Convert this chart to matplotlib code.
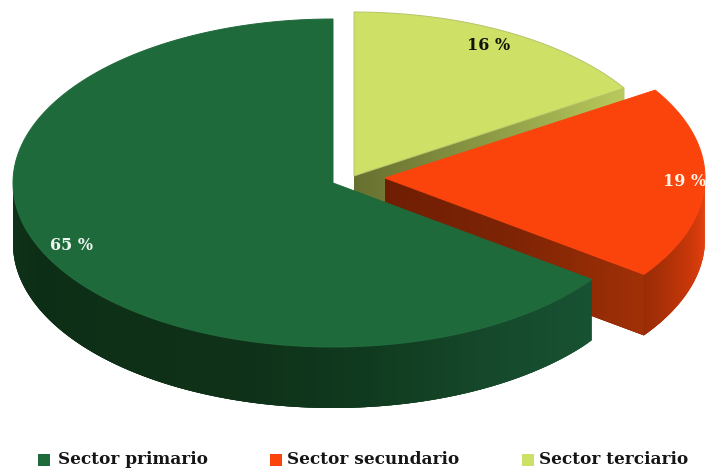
import numpy as np
import matplotlib
matplotlib.use("Agg")
import matplotlib.pyplot as plt
from matplotlib.collections import PolyCollection
from matplotlib.colors import to_rgb

# datos
sectores = ["Sector primario", "Sector secundario", "Sector terciario"]
valores = [65, 19, 16]
colores = ["#1f6a3b", "#fb430c", "#cfe066"]

RX, RY = 320, 164
DEPTH = 61
# centro de cada porcion en pixeles (explosion del pastel)
centros = {"Sector primario": (333, 183), "Sector secundario": (385, 178), "Sector terciario": (354, 176)}


def punto(c, ang):
    # angulo en grados, sentido horario desde las 12
    a = np.radians(ang)
    return c[0] + RX * np.sin(a), c[1] - RY * np.cos(a)


def degradado(n, paradas):
    t = np.linspace(0, 1, n)
    pos = np.linspace(0, 1, len(paradas))
    rgb = np.array([to_rgb(p) for p in paradas])
    return np.column_stack([np.interp(t, pos, rgb[:, i]) for i in range(3)])


def pared(ax, xs, ys, paradas):
    # cada tira pisa a la siguiente para que no se noten las uniones
    tiras = []
    for i in range(len(xs) - 1):
        j = min(i + 3, len(xs) - 1)
        tira = list(zip(xs[i:j + 1], ys[i:j + 1]))
        tira += [(x, y + DEPTH) for x, y in zip(xs[i:j + 1][::-1], ys[i:j + 1][::-1])]
        tiras.append(tira)
    cols = degradado(len(tiras), paradas)
    ax.add_collection(PolyCollection(tiras, facecolors=cols, edgecolors="none", linewidths=0))


def pared_curva(ax, c, a0, a1, paradas):
    angs = np.linspace(a0, a1, 120)
    x, y = punto(c, angs)
    pared(ax, x, y, paradas)


def pared_recta(ax, c, ang, paradas):
    px, py = punto(c, ang)
    pared(ax, np.linspace(c[0], px, 60), np.linspace(c[1], py, 60), paradas)


def cara(ax, c, a0, a1, color, borde=None):
    angs = np.linspace(a0, a1, 200)
    x, y = punto(c, angs)
    ax.fill(np.r_[c[0], x], np.r_[c[1], y], facecolor=color, edgecolor=borde or color, linewidth=0.7)


fig = plt.figure(figsize=(7.08, 4.72), dpi=100)
ax = fig.add_axes([0, 0, 1, 1])
ax.set_xlim(0, 708)
ax.set_ylim(472, 0)
ax.axis("off")

# angulos a partir de los valores (terciario, secundario, primario en sentido horario)
total = sum(valores)
a_ter = valores[2] / total * 360
a_sec = a_ter + valores[1] / total * 360

c_pri, c_sec, c_ter = centros[sectores[0]], centros[sectores[1]], centros[sectores[2]]

# terciario
pared_recta(ax, c_ter, a_ter, ["#67702f", "#8c9a45", "#b9c95c"])
cara(ax, c_ter, 0, a_ter, colores[2], "#b7c46a")

# secundario
pared_recta(ax, c_sec, a_sec, ["#6f1e04", "#7e2405", "#a03006"])
pared_curva(ax, c_sec, 90, a_sec, ["#e8440f", "#d83c0b", "#bb3408", "#9a2c06"])
cara(ax, c_sec, a_ter, a_sec, colores[1])

# primario
pared_curva(ax, c_pri, a_sec, 270, ["#175232", "#16492b", "#103a1f", "#0e3118", "#0e3017", "#0d2e16", "#0f3318"])
cara(ax, c_pri, a_sec, 360, colores[0])

# etiquetas
ax.text(489, 46, f"{valores[2]} %", color="#10140c", fontsize=11.5, fontweight="bold",
        family="DejaVu Serif", ha="center", va="center")
ax.text(685, 182, f"{valores[1]} %", color="#fff4e8", fontsize=11.5, fontweight="bold",
        family="DejaVu Serif", ha="center", va="center")
ax.text(71, 245, f"{valores[0]} %", color="#eef6ee", fontsize=11.5, fontweight="bold",
        family="DejaVu Serif", ha="center", va="center")

# leyenda
cuadros_x = [44, 276, 528]
textos_x = [58, 287, 539]
for nombre, color, cx, tx in zip(sectores, colores, cuadros_x, textos_x):
    ax.scatter([cx], [460], marker="s", s=70, color=color, linewidths=0)
    ax.text(tx, 460, nombre, color="#151515", fontsize=12.2, fontweight="bold",
            family="DejaVu Serif", ha="left", va="center")

fig.savefig("out.png", dpi=100)
